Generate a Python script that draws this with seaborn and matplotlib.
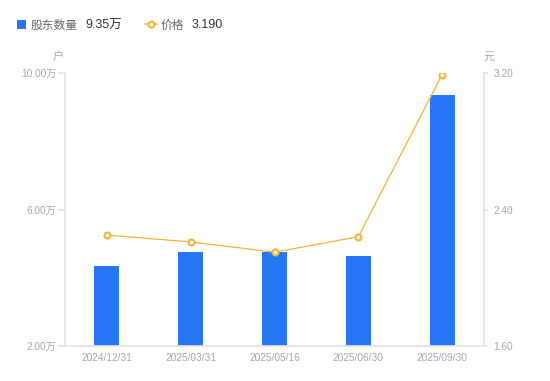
import matplotlib
matplotlib.use("Agg")
import matplotlib.pyplot as plt
import seaborn as sns
import numpy as np
from matplotlib.lines import Line2D
from matplotlib.patches import Rectangle

dates = ["2024/12/31", "2025/03/31", "2025/05/16", "2025/06/30", "2025/09/30"]
holders = [4.35, 4.76, 4.74, 4.63, 9.35]   # 万户
prices = [2.25, 2.21, 2.15, 2.24, 3.19]    # 元
left_ticks = [2.0, 6.0, 10.0]
right_ticks = [1.60, 2.40, 3.20]

BLUE = "#2677F5"
ORANGE = "#F7B035"
GRID = "#E3E3E6"
TICK = "#A3A6B4"
DARK = "#333333"
GREY = "#666666"

sns.set_theme(style="white")
FAM = ['Liberation Sans', 'Noto Sans CJK SC', 'DejaVu Sans']
plt.rcParams['font.family'] = FAM

fig = plt.figure(figsize=(5.5, 3.81), dpi=100)
ax = fig.add_axes([65/550, 1-346/381, (484-65)/550, (346-73)/381])

sns.barplot(x=dates, y=holders, color=BLUE, width=0.3, saturation=1, ax=ax, edgecolor="none")
ax.set_ylim(2, 10)
ax.set_yticks(left_ticks)
ax.set_yticklabels([f"{v:.2f}万" for v in left_ticks])
ax.set_xlabel("")
ax.set_ylabel("")

ax2 = ax.twinx()
sns.lineplot(x=np.arange(len(prices)), y=prices, ax=ax2, color=ORANGE, linewidth=0.9,
             marker="o", markersize=4.3, markerfacecolor="white", markeredgecolor=ORANGE,
             markeredgewidth=1.5)
ax2.set_ylim(1.6, 3.2)
ax2.set_yticks(right_ticks)
ax2.set_yticklabels([f"{v:.2f}" for v in right_ticks])
ax2.set_ylabel("")
ax.set_xlim(-0.5, 4.5)

for a in (ax, ax2):
    for s in a.spines.values():
        s.set_visible(False)
    a.grid(False)
ax.spines['left'].set_visible(True)
ax.spines['left'].set_color(GRID)
ax.spines['bottom'].set_visible(True)
ax.spines['bottom'].set_color(GRID)
ax2.spines['right'].set_visible(True)
ax2.spines['right'].set_color(GRID)

ax.tick_params(axis='y', which='both', length=5, color=GRID, labelcolor=TICK, labelsize=7.3, pad=1, left=True)
ax.tick_params(axis='x', length=0, labelcolor=TICK, labelsize=7.3, pad=5)
ax2.tick_params(axis='y', length=3, color=GRID, labelcolor=TICK, labelsize=7.3, pad=4, right=True)

# unit labels
fig.text(58/550, 1-57/381, "户", ha="center", va="center", fontsize=8, color=TICK)
fig.text(489/550, 1-57/381, "元", ha="center", va="center", fontsize=8, color=TICK)

# legend
yb = 1 - 28.5/381
fig.patches.append(Rectangle((17/550, 1-29/381), 9/550, 9/381, transform=fig.transFigure,
                             facecolor=BLUE, edgecolor="none"))
fig.text(31/550, yb, "股东数量", ha="left", va="baseline", fontsize=8.5, color=GREY,
         family=['Noto Sans CJK SC', 'DejaVu Sans'])
fig.text(85/550, yb, "9.35万", ha="left", va="baseline", fontsize=9, color=DARK)
fig.lines.append(Line2D([145/550, 157/550], [1-24/381, 1-24/381], transform=fig.transFigure,
                        color=ORANGE, linewidth=1.2))
fig.lines.append(Line2D([151/550], [1-24/381], transform=fig.transFigure, color=ORANGE,
                        marker="o", markersize=4.3, markerfacecolor="white", markeredgewidth=1.5,
                        linestyle="none"))
fig.text(161/550, yb, "价格", ha="left", va="baseline", fontsize=8.5, color=GREY,
         family=['Noto Sans CJK SC', 'DejaVu Sans'])
fig.text(192/550, yb, "3.190", ha="left", va="baseline", fontsize=9, color=DARK)

fig.savefig("out.png", dpi=100)
